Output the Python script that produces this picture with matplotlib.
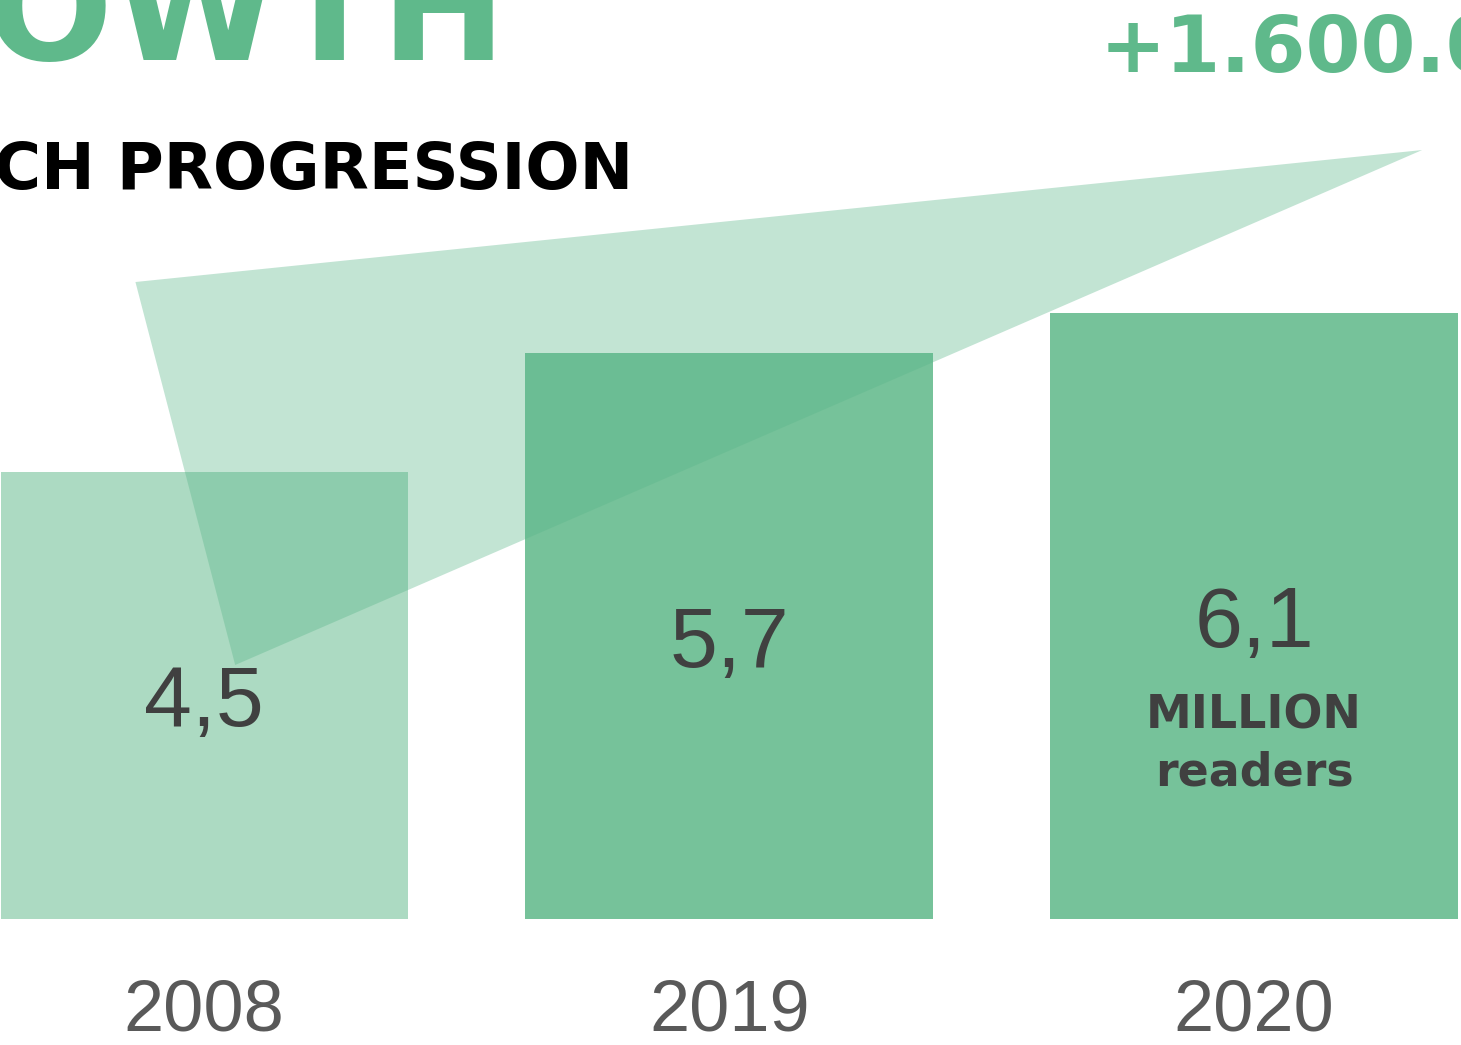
import matplotlib
matplotlib.use("Agg")
import matplotlib.pyplot as plt
from matplotlib.patches import Polygon

# ---- data ----
years = ["2008", "2019", "2020"]
readers_millions = [4.5, 5.7, 6.1]
value_labels = ["4,5", "5,7", "6,1"]
title_text = "GROWTH"
subtitle_text = "REACH PROGRESSION"
increase_text = "+1.600.000"
unit_lines = ["MILLION", "readers"]

# ---- style ----
GREEN = "#5FB98B"
BAR = "#76C29A"
TEXT_DARK = "#404040"
TEXT_YEAR = "#595959"

fig = plt.figure(figsize=(14.61, 10.45), dpi=100)
ax = fig.add_axes([0, 0, 1, 1])
ax.axis("off")
ax.set_xlim(-0.389, 2.394)
ax.set_ylim(-1.269, 9.255)

x = list(range(len(years)))
alphas = [0.6, 1.0, 1.0]
for xi, v, a in zip(x, readers_millions, alphas):
    ax.bar(xi, v, width=0.776, color=BAR, alpha=a, linewidth=0, zorder=2)

# decorative growth wedge (from 2008 label toward the +increase headline)
wedge = Polygon([(-0.131, 6.415), (2.320, 7.744), (0.059, 2.558)],
                closed=True, facecolor="#5AB68A", alpha=0.37,
                edgecolor="none", zorder=3)
ax.add_patch(wedge)

BOLD = dict(family=["DejaVu Sans"], fontweight="bold")
REG = dict(family=["Liberation Sans", "DejaVu Sans"])

for xi, v, lab, yr in zip(x, readers_millions, value_labels, years):
    ax.annotate(lab, (xi, v / 2), xytext=(0, -22), textcoords="offset points",
                ha="center", va="baseline", fontsize=62, color=TEXT_DARK,
                zorder=5, **REG)
    ax.annotate(yr, (xi, 0), xytext=(0, -80), textcoords="offset points",
                ha="center", va="baseline", fontsize=52, color=TEXT_YEAR,
                zorder=5, **REG)

# unit text under the last value
xl, vl = x[-1], readers_millions[-1]
ax.annotate(unit_lines[0], (xl, vl / 2), xytext=(0, -81), textcoords="offset points",
            ha="center", va="baseline", fontsize=33, color=TEXT_DARK, zorder=5, **BOLD)
ax.annotate(unit_lines[1], (xl, vl / 2), xytext=(0, -122), textcoords="offset points",
            ha="center", va="baseline", fontsize=33, color=TEXT_DARK, zorder=5, **BOLD)

# headings (partially cropped, like the reference)
fig.text(507 / 1461, 1 - 60 / 1045, title_text, ha="right", va="baseline",
         fontsize=108, color=GREEN, **BOLD)
fig.text(633 / 1461, 1 - 189 / 1045, subtitle_text, ha="right", va="baseline",
         fontsize=46, color="black", **BOLD)
fig.text(1100 / 1461, 1 - 72 / 1045, increase_text, ha="left", va="baseline",
         fontsize=57, color=GREEN, **BOLD)

fig.savefig("out.png", dpi=100, facecolor="white")
